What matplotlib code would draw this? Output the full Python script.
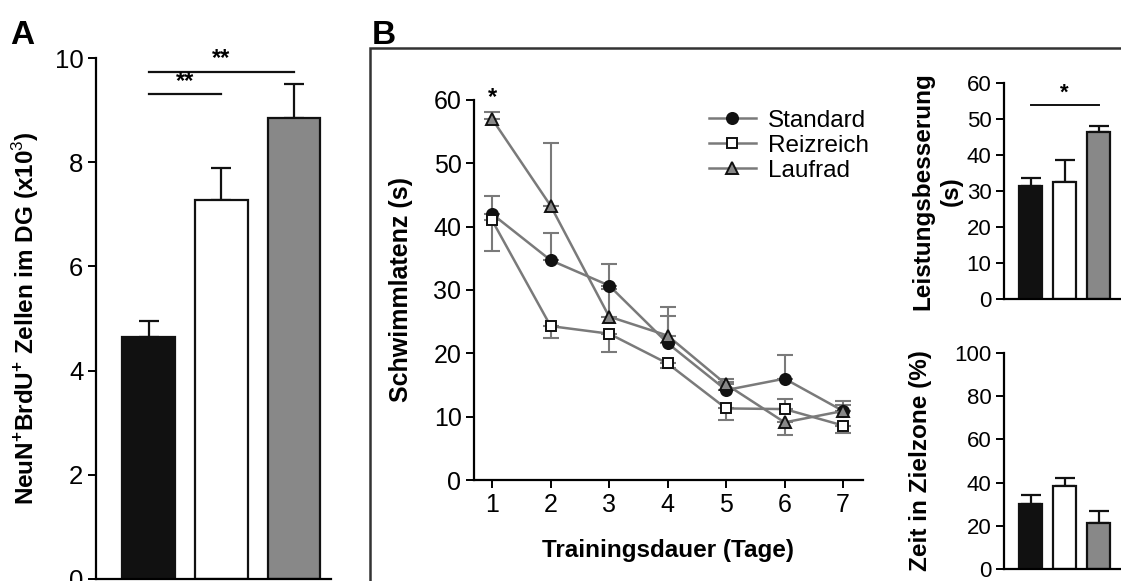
import matplotlib
matplotlib.use("Agg")
import matplotlib.pyplot as plt
from matplotlib.patches import Rectangle

plt.rcParams['font.family'] = ['Liberation Sans', 'DejaVu Sans']
plt.rcParams['mathtext.fontset'] = 'custom'
plt.rcParams['mathtext.rm'] = 'Liberation Sans'
plt.rcParams['mathtext.bf'] = 'Liberation Sans:bold'

# group names and colours
groups = ['Standard', 'Reizreich', 'Laufrad']
bar_colors = ['#111111', '#ffffff', '#888888']

# A: NeuN+BrdU+ cells (x10^3)
neun_mean = [4.65, 7.28, 8.85]
neun_err = [0.30, 0.60, 0.65]

# B: swim latency per day
days = [1, 2, 3, 4, 5, 6, 7]
std_mean = [42.0, 34.7, 30.7, 21.6, 14.2, 16.0, 10.9]
std_lo = [0, 0, 0, 0, 0, 0, 0]
std_hi = [2.8, 4.3, 3.4, 4.3, 1.2, 3.7, 1.5]
rei_mean = [41.0, 24.3, 23.1, 18.4, 11.3, 11.2, 8.6]
rei_lo = [4.8, 1.9, 2.9, 0.7, 1.9, 0, 1.1]
rei_hi = [0, 0, 0, 0, 0, 1.6, 0]
lau_mean = [57.0, 43.3, 25.8, 22.8, 15.1, 9.1, 10.9]
lau_lo = [0, 0, 0, 0, 0, 2.0, 0]
lau_hi = [1.1, 9.9, 4.4, 4.5, 0.9, 0, 1.0]

# B right: improvement (s) and time in target zone (%)
impr_mean = [31.3, 32.6, 46.5]
impr_err = [2.3, 6.0, 1.6]
zone_mean = [30.2, 38.6, 21.4]
zone_err = [4.1, 3.7, 5.5]

W, H = 1121, 581
fig = plt.figure(figsize=(W / 100, H / 100), dpi=100)


def px_axes(left, right, top, bottom):
    return fig.add_axes([left / W, 1 - bottom / H, (right - left) / W, (bottom - top) / H])


def style(ax, fs):
    ax.spines['top'].set_visible(False)
    ax.spines['right'].set_visible(False)
    for s in ['left', 'bottom']:
        ax.spines[s].set_linewidth(1.6)
    ax.tick_params(direction='out', length=6, width=1.4, labelsize=fs, pad=3)


def bar_panel(ax, means, errs, width, fs):
    x = list(range(len(means)))
    ax.bar(x, means, width=width, color=bar_colors, edgecolor='#111111', linewidth=1.6, zorder=2)
    ax.errorbar(x, means, yerr=[[0] * len(errs), errs], fmt='none', ecolor='#111111',
                elinewidth=1.6, capsize=7, capthick=1.6, zorder=1)
    style(ax, fs)
    ax.set_xticks([])


# ---- Panel A ----
axA = px_axes(96, 331, 58, 579)
bar_panel(axA, neun_mean, neun_err, 0.73, 18.5)
axA.set_xlim(-0.73, 2.51)
axA.set_ylim(0, 10)
axA.set_yticks([0, 2, 4, 6, 8, 10])
axA.set_ylabel(r'NeuN$^{\mathbf{+}}$BrdU$^{\mathbf{+}}$ Zellen im DG (x10$^{3}$)',
               fontsize=17.5, fontweight='bold', labelpad=10)
axA.plot([0, 1], [9.3, 9.3], color='#111111', lw=1.6)
axA.text(0.5, 9.33, '**', ha='center', va='bottom', fontsize=17, fontweight='bold')
axA.plot([0, 2], [9.73, 9.73], color='#111111', lw=1.6)
axA.text(1.0, 9.76, '**', ha='center', va='bottom', fontsize=17, fontweight='bold')

# ---- Panel B frame ----
fig.patches.append(Rectangle((370 / W, -0.01), 1, 1 - 48 / H + 0.01, transform=fig.transFigure,
                             fill=False, edgecolor='#333333', linewidth=1.8))

fig.text(10 / W, 1 - 44 / H, 'A', fontsize=24, fontweight='bold')
fig.text(372 / W, 1 - 44 / H, 'B', fontsize=24, fontweight='bold')

# ---- Panel B line chart ----
axB = px_axes(474, 863, 100, 480)
line_c = '#7a7a7a'
series = [
    (std_mean, std_lo, std_hi, 'o', '#111111', 8),
    (rei_mean, rei_lo, rei_hi, 's', '#ffffff', 7),
    (lau_mean, lau_lo, lau_hi, '^', '#888888', 8),
]
for name, (m, lo, hi, mk, fc, ms) in zip(groups, series):
    axB.errorbar(days, m, yerr=[lo, hi], fmt='none', ecolor=line_c, elinewidth=1.5,
                 capsize=6, capthick=1.5, zorder=1)
    axB.plot(days, m, color=line_c, lw=1.8, marker=mk, markersize=ms, markerfacecolor=fc,
             markeredgecolor='#111111', markeredgewidth=1.4, label=name, zorder=3)
style(axB, 18)
axB.set_xlim(0.69, 7.34)
axB.set_ylim(0, 60)
axB.set_xticks(days)
axB.set_yticks(range(0, 61, 10))
axB.set_xlabel('Trainingsdauer (Tage)', fontsize=17.5, fontweight='bold', labelpad=16)
axB.set_ylabel('Schwimmlatenz (s)', fontsize=18, fontweight='bold', labelpad=15)
axB.text(1, 58.6, '*', ha='center', va='bottom', fontsize=17, fontweight='bold')
axB.legend(loc='upper left', bbox_to_anchor=(0.58, 1.0), frameon=False, fontsize=17.5,
           handlelength=1.9, handletextpad=0.5, labelspacing=0.12, borderaxespad=0)

# ---- Panel B: improvement ----
axC = px_axes(1004, 1121, 83, 299)
bar_panel(axC, impr_mean, impr_err, 0.68, 16)
axC.set_xlim(-0.78, 2.66)
axC.set_ylim(0, 60)
axC.set_yticks(range(0, 61, 10))
axC.set_ylabel('Leistungsbesserung\n(s)', fontsize=17.5, fontweight='bold', labelpad=3,
               linespacing=1.3)
axC.plot([0, 2], [54.0, 54.0], color='#111111', lw=1.4)
axC.text(1.0, 54.3, '*', ha='center', va='bottom', fontsize=16, fontweight='bold')

# ---- Panel B: time in target zone ----
axD = px_axes(1004, 1121, 353, 569)
bar_panel(axD, zone_mean, zone_err, 0.68, 16)
axD.set_xlim(-0.78, 2.66)
axD.set_ylim(0, 100)
axD.set_yticks(range(0, 101, 20))
axD.set_ylabel('Zeit in Zielzone (%)', fontsize=17.5, fontweight='bold', labelpad=16)

fig.savefig('out.png', dpi=100)
